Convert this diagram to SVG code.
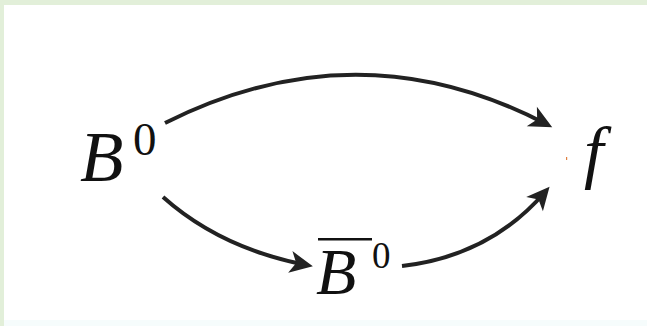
<svg xmlns="http://www.w3.org/2000/svg" width="647" height="326" viewBox="0 0 647 326">
<style>
text{font-family:"Liberation Serif","DejaVu Serif",serif;fill:#111}
.it{font-style:italic}
.edge{fill:none;stroke:#222;stroke-width:4}
</style>
<defs>
<marker id="ah" markerUnits="userSpaceOnUse" markerWidth="30" markerHeight="30" viewBox="-2 -14 30 28" refX="16" refY="0" orient="auto">
<path d="M0,-11 L23,0 L0,11 L6,0 Z" fill="#222"/>
</marker>
</defs>
<rect x="0" y="0" width="647" height="326" fill="#e2efd9"/>
<rect x="4" y="5" width="643" height="315" fill="#ffffff"/>
<rect x="4" y="320" width="643" height="6" fill="#f6fcfc"/>
<g id="connectors">
<path class="edge" d="M165,123 Q358,26 546,124" marker-end="url(#ah)"/>
<path class="edge" d="M163,197 Q220,248 306,265" marker-end="url(#ah)"/>
<path class="edge" d="M402,266 Q490,256 545,192" marker-end="url(#ah)"/>
</g>
<g id="B0">
<text class="it" x="80" y="181" font-size="71" font-family="Liberation Serif" font-style="italic">B</text>
<text x="133" y="155" font-size="47" font-family="Liberation Serif">0</text>
</g>
<g id="Bbar0">
<text class="it" x="316" y="294" font-size="66" font-family="Liberation Serif" font-style="italic">B</text>
<rect x="318" y="238" width="54" height="2.5" fill="#111"/>
<text x="372" y="268" font-size="37" font-family="Liberation Serif">0</text>
</g>
<g id="f">
<text class="it" x="584" y="175" font-size="70" font-family="Liberation Serif" font-style="italic">f</text>
<rect x="566" y="157" width="1.2" height="3" fill="#e08040"/>
</g>
</svg>
